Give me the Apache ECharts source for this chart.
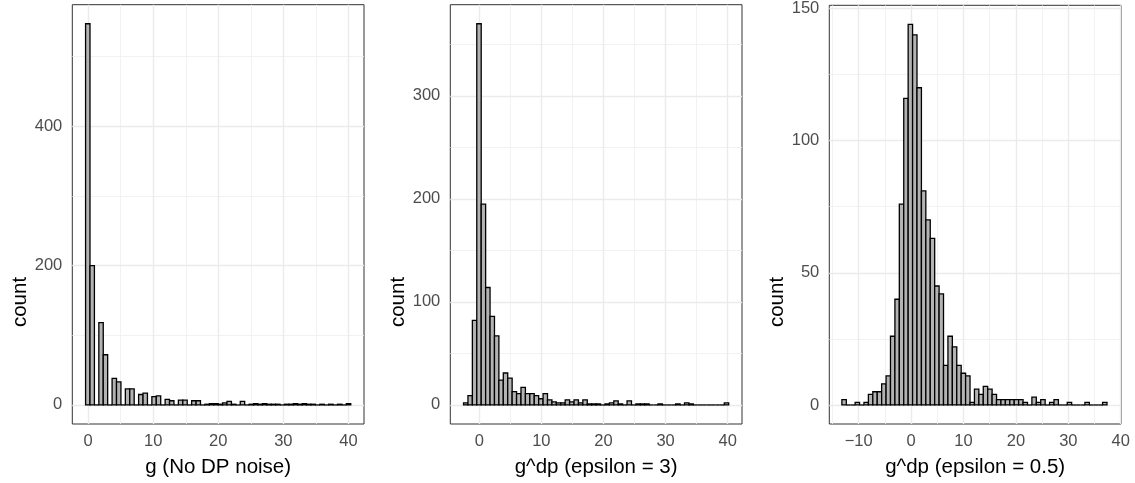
<!DOCTYPE html>
<html><head><meta charset="utf-8">
<script src="https://cdn.jsdelivr.net/npm/echarts@6/dist/echarts.min.js"></script>
<style>html,body{margin:0;padding:0;background:#fff}#chart{width:1135px;height:483px}</style>
</head><body><div id="chart"></div>
<script>
// ---- data: histogram counts (60 bins per panel) ----
const P1_COUNTS = [547,200,0,118,72,0,38,33,0,23,23,0,15,17,0,12,13,0,8,6,0,7,7,0,6,6,0,1,2,2,1,3,5,1,0,5,0,1,2,1,2,1,1,1,0,1,1,2,1,2,1,1,0,1,0,1,0,1,0,2];
const P2_COUNTS = [2,9,82,370,195,114,86,67,24,31,26,13,11,17,11,11,9,6,11,5,3,2,2,5,3,5,2,5,1,1,1,0,1,2,4,1,0,4,0,1,1,1,0,0,1,0,0,0,1,0,2,1,0,0,0,0,0,0,0,2];
const P3_COUNTS = [2,0,0,1,0,1,4,5,5,8,11,26,40,76,116,144,140,120,81,70,63,45,42,15,26,22,15,12,11,1,6,4,7,6,4,2,2,2,2,2,2,1,0,3,1,2,0,1,2,0,0,1,0,0,0,1,0,0,0,1];
// bin definitions (left edge of first bin, bin width)
const P1_BIN_START = -0.40, P1_BIN_WIDTH = 0.6794;
const P2_BIN_START = -2.53, P2_BIN_WIDTH = 0.7115;
const P3_BIN_START = -13.2, P3_BIN_WIDTH = 0.843;
// axis ticks
const P1_X_TICKS = [0,10,20,30,40];
const P2_X_TICKS = [0,10,20,30,40];
const P3_X_TICKS = [-10,0,10,20,30,40];
const P1_X_MINOR = [5,15,25,35];
const P2_X_MINOR = [5,15,25,35];
const P3_X_MINOR = [-15,-5,5,15,25,35];
const P1_Y_TICKS = [0,200,400];
const P2_Y_TICKS = [0,100,200,300];
const P3_Y_TICKS = [0,50,100,150];
const P1_Y_MINOR = [100,300,500];
const P2_Y_MINOR = [50,150,250,350];
const P3_Y_MINOR = [25,75,125];
// axis ranges
const P1_X_RANGE = [-2.44, 42.4], P1_Y_RANGE = [-27.35, 574.35];
const P2_X_RANGE = [-4.66, 42.3], P2_Y_RANGE = [-18.5, 388.5];
const P3_X_RANGE = [-15.6, 40.05], P3_Y_RANGE = [-7.2, 151.2];
// titles
const X_TITLES = ['g (No DP noise)', 'g^dp (epsilon = 3)', 'g^dp (epsilon = 0.5)'];
const Y_TITLE = 'count';

const FONT = '"Liberation Sans", Arial, Helvetica, sans-serif';
const GRID_TOP = 4.7, GRID_H = 422.6, GRID_W = 291.7;
const panels = [
  {counts:P1_COUNTS, start:P1_BIN_START, width:P1_BIN_WIDTH, xt:P1_X_TICKS, xm:P1_X_MINOR, yt:P1_Y_TICKS, ym:P1_Y_MINOR, xr:P1_X_RANGE, yr:P1_Y_RANGE, left:72.3},
  {counts:P2_COUNTS, start:P2_BIN_START, width:P2_BIN_WIDTH, xt:P2_X_TICKS, xm:P2_X_MINOR, yt:P2_Y_TICKS, ym:P2_Y_MINOR, xr:P2_X_RANGE, yr:P2_Y_RANGE, left:450.3},
  {counts:P3_COUNTS, start:P3_BIN_START, width:P3_BIN_WIDTH, xt:P3_X_TICKS, xm:P3_X_MINOR, yt:P3_Y_TICKS, ym:P3_Y_MINOR, xr:P3_X_RANGE, yr:P3_Y_RANGE, left:829.3}
];
const fmt = v => (v < 0 ? '\u2212' + Math.abs(v) : String(v));

const grid = [], xAxis = [], yAxis = [], series = [], graphic = [];
panels.forEach((p, i) => {
  grid.push({left:p.left, top:GRID_TOP, width:GRID_W, height:GRID_H, show:true, borderColor:'#333333', borderWidth:1, backgroundColor:'#ffffff', containLabel:false});
  xAxis.push({
    type:'value', gridIndex:i, min:p.xr[0], max:p.xr[1],
    axisLine:{show:false}, splitLine:{show:false},
    axisTick:{show:true, customValues:p.xt, length:5, lineStyle:{color:'#333333', width:1}},
    axisLabel:{show:true, customValues:p.xt, formatter:fmt, color:'#4D4D4D', fontSize:16.5, fontFamily:FONT, margin:9},
    name:X_TITLES[i], nameLocation:'middle', nameGap:33,
    nameTextStyle:{color:'#000000', fontSize:20.5, fontFamily:FONT}
  });
  yAxis.push({
    type:'value', gridIndex:i, min:p.yr[0], max:p.yr[1],
    axisLine:{show:false}, splitLine:{show:false},
    axisTick:{show:true, customValues:p.yt, length:5, lineStyle:{color:'#333333', width:1}},
    axisLabel:{show:true, customValues:p.yt, formatter:fmt, color:'#4D4D4D', fontSize:16.5, fontFamily:FONT, margin:10}
  });
  // y-axis title, placed as in the reference (left of panel, lower part)
  graphic.push({
    type:'text', x:p.left - 52, y:302, rotation:Math.PI / 2, silent:true,
    style:{text:Y_TITLE, fill:'#000000', font:'20.5px ' + FONT, textAlign:'center', textVerticalAlign:'middle'}
  });
  const minorStyle = {color:'#EFEFEF', width:0.8, type:'solid'};
  const majorStyle = {color:'#EBEBEB', width:1.4, type:'solid'};
  const lines = []
    .concat(p.xm.map(v => ({xAxis:v, lineStyle:minorStyle})))
    .concat(p.ym.map(v => ({yAxis:v, lineStyle:minorStyle})))
    .concat(p.xt.map(v => ({xAxis:v, lineStyle:majorStyle})))
    .concat(p.yt.map(v => ({yAxis:v, lineStyle:majorStyle})));
  series.push({
    type:'line', xAxisIndex:i, yAxisIndex:i, data:[], silent:true, z:1,
    markLine:{silent:true, z:1, symbol:['none','none'], animation:false, label:{show:false}, emphasis:{disabled:true}, data:lines}
  });
  const bars = p.counts.map((c, k) => [p.start + k * p.width, p.start + (k + 1) * p.width, c]);
  series.push({
    type:'custom', xAxisIndex:i, yAxisIndex:i, z:10, silent:true,
    encode:{x:[0,1], y:2},
    data:bars,
    renderItem:(params, api) => {
      const a = api.coord([api.value(0), api.value(2)]);
      const b = api.coord([api.value(1), 0]);
      if (api.value(2) === 0) {
        return {type:'line', shape:{x1:a[0], y1:b[1], x2:b[0], y2:b[1]},
                style:{stroke:'#000000', lineWidth:1.3}};
      }
      return {type:'rect', shape:{x:a[0], y:a[1], width:b[0]-a[0], height:b[1]-a[1]},
              style:{fill:'#B3B3B3', stroke:'#000000', lineWidth:1.3}};
    }
  });
});

const chart = echarts.init(document.getElementById('chart'), null, {renderer:'canvas'});
chart.setOption({animation:false, backgroundColor:'#ffffff', grid, xAxis, yAxis, series, graphic});
</script>
</body></html>
